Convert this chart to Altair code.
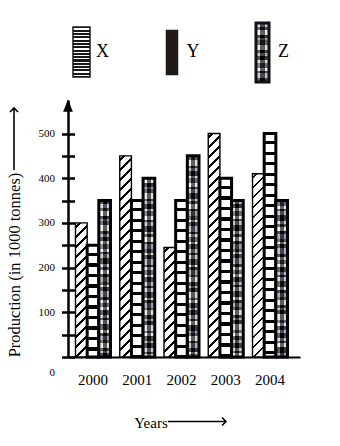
import altair as alt
import pandas as pd

# ---- data ----
years = ["2000", "2001", "2002", "2003", "2004"]
series = ["X", "Y", "Z"]
x_values = [300, 450, 245, 500, 410]
y_values = [250, 350, 350, 400, 500]
z_values = [350, 400, 450, 350, 350]
y_tick_values = [0, 50, 100, 150, 200, 250, 300, 350, 400, 450, 500]

values = {"X": x_values, "Y": y_values, "Z": z_values}
df = pd.DataFrame(
    [{"year": yr, "series": s, "value": values[s][i]} for s in series for i, yr in enumerate(years)]
)
legend_df = pd.DataFrame({"series": series})
one_df = pd.DataFrame({"k": [0]})

# ---- layout / style ----
W, H = 232, 257
YMAX = 575
KY = H / YMAX
P_IN, P_OUT, ALIGN = 0.209, 0.226, 0.375
STEP = W / (len(years) - P_IN + 2 * P_OUT)
BAR_W = STEP * (1 - P_IN) / 3
FONT = "Liberation Serif"

Z_TONES = ["#0a0a0a", "#cfc8dc", "#262626", "#f4f4f0", "#000000", "#8e879c", "#333038",
           "#e4e8d8", "#141414", "#aaa3ba", "#000000", "#dcdcdc", "#4d4a55", "#f8f8f8",
           "#1c1c1c", "#b8b2c6"]
Z_BLOCKS = [3, 4.5, 2.5, 5, 3.5, 2, 4, 6, 2.5]


def stripe_stops(total, period, thick, phase, bg, fg):
    stops = [{"offset": 0, "color": bg}]
    s = phase
    while s < total:
        a = round(max(s, 0) / total, 5)
        b = round(min(s + thick, total) / total, 5)
        stops += [{"offset": a, "color": bg}, {"offset": a, "color": fg},
                  {"offset": b, "color": fg}, {"offset": b, "color": bg}]
        s += period
    stops.append({"offset": 1, "color": bg})
    return stops


def hatch_grad(h, w):
    k = h * (w + h) / (h * h + w * w)
    return {"gradient": "linear", "x1": 0, "y1": 0, "x2": round(k * w / h, 5), "y2": round(k, 5),
            "stops": stripe_stops(w + h, 10, 2.6, 3, "white", "black")}


def ladder_grad(h, period=10.5, thick=3.4, phase=7.5, bg="white", fg="black"):
    return {"gradient": "linear", "x1": 0, "y1": 0, "x2": 0, "y2": 1,
            "stops": stripe_stops(h, period, thick, phase, bg, fg)}


def noise_grad(h, shift=0):
    stops = []
    pos = 0.0
    i = shift
    while pos < h:
        blk = Z_BLOCKS[i % len(Z_BLOCKS)]
        a = round(pos / h, 5)
        b = round(min(pos + blk, h) / h, 5)
        c = Z_TONES[i % len(Z_TONES)]
        stops += [{"offset": a, "color": c}, {"offset": b, "color": c}]
        pos += blk
        i += 1
    return {"gradient": "linear", "x1": 0, "y1": 0, "x2": 0, "y2": 1, "stops": stops}


noise_overlay = {"gradient": "linear", "x1": 0, "y1": 0, "x2": 1, "y2": 0, "stops": [
    {"offset": 0, "color": "rgba(255,255,255,0.35)"}, {"offset": 0.33, "color": "rgba(255,255,255,0.35)"},
    {"offset": 0.33, "color": "rgba(0,0,0,0.6)"}, {"offset": 0.66, "color": "rgba(0,0,0,0.6)"},
    {"offset": 0.66, "color": "rgba(200,190,225,0.3)"}, {"offset": 1, "color": "rgba(200,190,225,0.3)"}]}

x_scale = alt.Scale(domain=years, paddingInner=P_IN, paddingOuter=P_OUT, align=ALIGN)
xo_scale = alt.Scale(domain=series, paddingInner=0, paddingOuter=0)
y_scale = alt.Scale(domain=[0, YMAX], nice=False, zero=True)

x_axis = alt.Axis(orient="bottom", ticks=False, tickSize=0, labelPadding=22, labelBaseline="middle",
                  labelAngle=0, labelFont=FONT, labelFontSize=15, labelColor="black",
                  domainColor="black", domainWidth=2, grid=False,
                  title="Years", titleFont=FONT, titleFontSize=15, titleFontWeight="normal",
                  titleColor="black", titleX=82.5, titleY=65, titleAlign="center",
                  titleBaseline="middle")

y_axis_a = alt.Axis(orient="left", values=y_tick_values,
                    labelExpr="datum.value % 100 == 0 ? datum.label : ''",
                    labelFont=FONT, labelFontSize=11, labelColor="black", labelPadding=7,
                    labelOffset={"condition": {"test": "datum.value == 0", "value": 15}, "value": 0},
                    tickSize=6.5, tickWidth=2.5, tickColor="black",
                    domainColor="black", domainWidth=2.5, grid=False,
                    title="Production (in 1000 tonnes)", titleFont=FONT, titleFontSize=16.5,
                    titleFontWeight="normal", titleColor="black", titleX=-54, titleY=164.5,
                    titleAngle=270, titleAlign="center", titleBaseline="middle")

y_axis_b = alt.Axis(orient="left", values=y_tick_values, offset=-6.5, tickSize=6.5, tickWidth=2.5,
                    tickColor="black", labels=False, domain=False, grid=False, title="")

base = alt.Chart(df)
layers = []
stroke_w = {"X": 1.4, "Y": 3, "Z": 3}
for s in series:
    for i, yr in enumerate(years):
        v = values[s][i]
        h = v * KY
        if s == "X":
            fill = hatch_grad(h, BAR_W)
        elif s == "Y":
            fill = ladder_grad(h)
        else:
            fill = noise_grad(h, shift=3 * i)
        first_x = (s == "X" and i == 0)
        first_y = (s == "Y" and i == 0)
        if first_x:
            ya = y_axis_a
        elif first_y:
            ya = y_axis_b
        else:
            ya = None
        flt = f"datum.year == '{yr}' && datum.series == '{s}'"
        if s == "Z":
            layers.append(
                base.transform_filter(flt)
                .mark_bar(fill=fill)
                .encode(
                    x=alt.X("year:N", scale=x_scale, axis=None),
                    xOffset=alt.XOffset("series:N", scale=xo_scale),
                    y=alt.Y("value:Q", scale=y_scale, axis=None),
                )
            )
            fill = noise_overlay
        lyr = base.transform_filter(flt).mark_bar(
            fill=fill, stroke="black", strokeWidth=stroke_w[s]
        ).encode(
            x=alt.X("year:N", scale=x_scale, axis=x_axis if first_x else None),
            xOffset=alt.XOffset("series:N", scale=xo_scale),
            y=alt.Y("value:Q", scale=y_scale, axis=ya),
        )
        layers.append(lyr)

# arrow head at top of y axis
layers.append(
    alt.Chart(one_df).mark_point(shape="M0,0L-0.7,1.8L0.7,1.8Z", filled=True, fill="black",
                                 stroke="black", strokeWidth=0.5, size=164, opacity=1)
    .encode(x=alt.value(0), y=alt.YDatum(YMAX, scale=y_scale, axis=None))
)

# y title arrow
layers.append(alt.Chart(one_df).mark_rule(color="black", strokeWidth=1.6)
              .encode(x=alt.value(-54), y=alt.value(8), y2=alt.value(70)))
layers.append(alt.Chart(one_df).mark_point(shape="M-1,1L0,0L1,1", filled=False, stroke="black",
                                           strokeWidth=1.6, size=64, opacity=1)
              .encode(x=alt.value(-54), y=alt.value(8)))
# x title arrow
layers.append(alt.Chart(one_df).mark_rule(color="black", strokeWidth=1.6)
              .encode(x=alt.value(100), x2=alt.value(158), y=alt.value(321.5)))
layers.append(alt.Chart(one_df).mark_point(shape="M-1,-1L0,0L-1,1", filled=False, stroke="black",
                                           strokeWidth=1.6, size=64, opacity=1)
              .encode(x=alt.value(158), y=alt.value(321.5)))

# legend
lx = alt.X("series:N", scale=alt.Scale(type="point", domain=series, range=[13.5, 194.5],
                                       padding=0), axis=None)
leg = alt.Chart(legend_df)
layers.append(leg.transform_filter("datum.series == 'X'")
              .mark_bar(width=17, fill=ladder_grad(50, period=3.3, thick=1.3, phase=1.5,
                                                   bg="#1a1a1a", fg="white"),
                        stroke="#1a1a1a", strokeWidth=1.5)
              .encode(x=lx, y=alt.value(-73), y2=alt.value(-23)))
layers.append(leg.transform_filter("datum.series == 'Y'")
              .mark_bar(width=12, fill="#1f1a17", stroke="#1f1a17", strokeWidth=0.5)
              .encode(x=lx, y=alt.value(-70), y2=alt.value(-25)))
layers.append(leg.transform_filter("datum.series == 'Z'")
              .mark_bar(width=13, fill=noise_grad(59, shift=1))
              .encode(x=lx, y=alt.value(-77), y2=alt.value(-18)))
layers.append(leg.transform_filter("datum.series == 'Z'")
              .mark_bar(width=13, fill=noise_overlay, stroke="#111111", strokeWidth=3)
              .encode(x=lx, y=alt.value(-77), y2=alt.value(-18)))
layers.append(leg.mark_text(font=FONT, fontSize=18, dx=21, align="center", baseline="middle",
                            color="black")
              .encode(x=lx, y=alt.value(-48), text="series:N"))

chart = alt.layer(*layers).resolve_scale(x="independent", xOffset="independent").resolve_axis(
    y="independent", x="independent"
).properties(
    width=W, height=H,
    autosize=alt.AutoSizeParams(type="none"),
    padding={"left": 68, "top": 100, "right": 40, "bottom": 89},
    background="white",
).configure_view(stroke=None)

chart.save("out.html", embed_options={"renderer": "svg", "actions": False})
